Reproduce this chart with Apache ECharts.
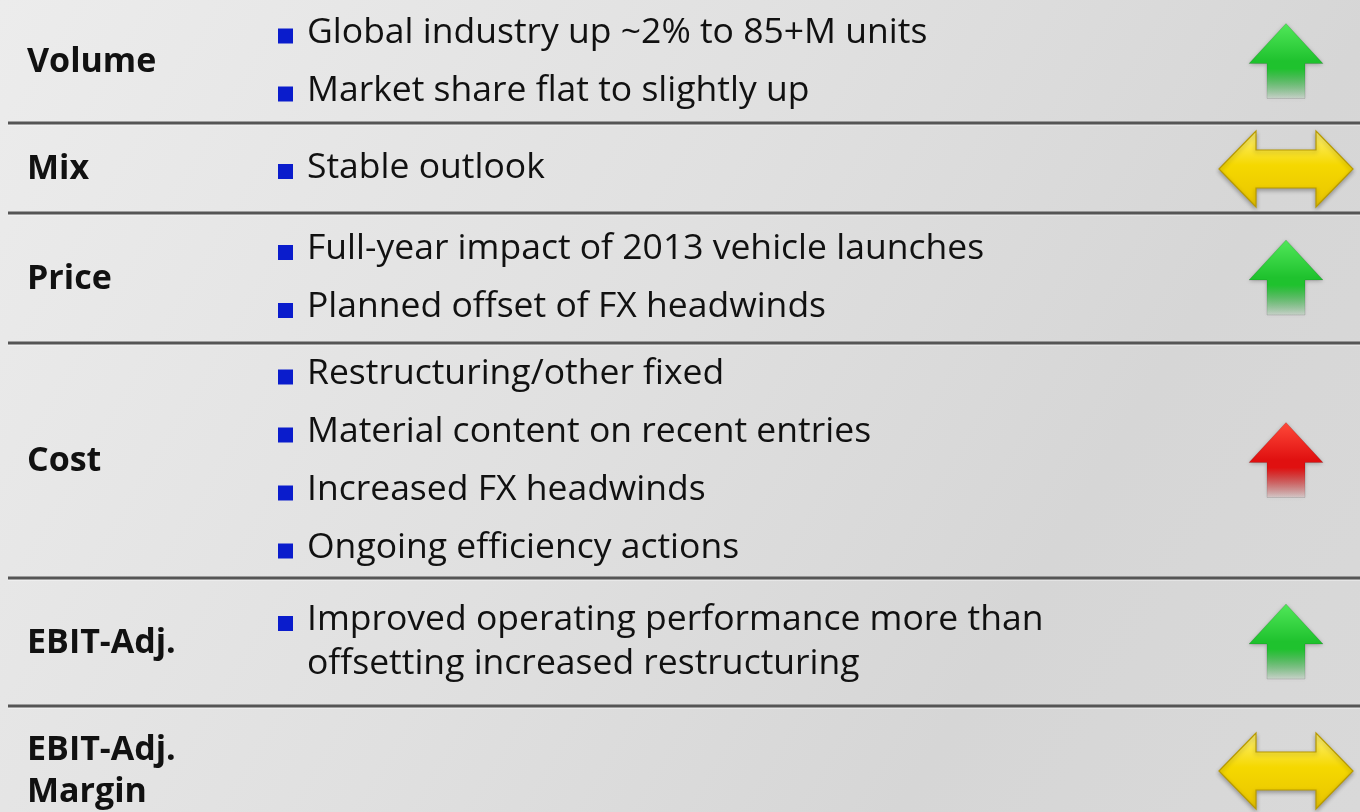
<!DOCTYPE html>
<html><head><meta charset="utf-8">
<script src="https://cdn.jsdelivr.net/npm/echarts@6/dist/echarts.min.js"></script>
<style>html,body{margin:0;padding:0;background:#dcdcdc;} #c{width:1360px;height:812px;}</style>
</head><body><div id="c"></div>
<script>
// ---- data ----
const categories = ['Volume', 'Mix', 'Price', 'Cost', 'EBIT-Adj.', 'EBIT-Adj.\nMargin'];
const bullets = [
  ['Global industry up ~2% to 85+M units', 'Market share flat to slightly up'],
  ['Stable outlook'],
  ['Full-year impact of 2013 vehicle launches', 'Planned offset of FX headwinds'],
  ['Restructuring/other fixed', 'Material content on recent entries', 'Increased FX headwinds', 'Ongoing efficiency actions'],
  ['Improved operating performance more than\noffsetting increased restructuring'],
  []
];
const trends = ['up', 'flat', 'up', 'up', 'up', 'flat'];
const sentiment = ['good', 'neutral', 'good', 'bad', 'good', 'neutral'];

// ---- layout / style (not data) ----
const LAYOUT = {
  rowHeights: [123, 90, 130, 235, 128, 128],
  labelX: 27, bulletX: 278, textX: 307, bulletSize: 15,
  bulletGap: 14, lineH: 44, arrowX: 1286
};
const FONT_TEXT = '35.5px "Open Sans"';
const FONT_LABEL = 'bold 34px "Open Sans"';

const rowTops = [];
let acc = 0;
LAYOUT.rowHeights.forEach(h => { rowTops.push(acc); acc += h; });
const seriesData = categories.map((c, i) => [i, rowTops[i], rowTops[i] + LAYOUT.rowHeights[i]]);

const COLORS = {
  good: { top: '#52e85a', mid: '#1fc22e', edge: '#129a1e', fade: 'rgba(40,190,60,0.05)' },
  bad: { top: '#ff4a3a', mid: '#e01010', edge: '#a80a0a', fade: 'rgba(220,30,30,0.05)' },
  neutral: { top: '#fff27a', mid: '#f5d800', edge: '#b89a00' }
};

function upArrow(cx, cy, c) {
  const pts = [[cx, cy - 38], [cx + 37, cy + 2], [cx + 19, cy + 2], [cx + 19, cy + 37],
               [cx - 19, cy + 37], [cx - 19, cy + 2], [cx - 37, cy + 2]];
  return {
    type: 'polygon', shape: { points: pts },
    style: {
      fill: new echarts.graphic.LinearGradient(0, 0, 0, 1, [
        { offset: 0, color: c.top }, { offset: 0.5, color: c.mid },
        { offset: 0.6, color: c.mid }, { offset: 1, color: c.fade }]),
      stroke: 'rgba(0,0,0,0.12)', lineWidth: 1,
      shadowBlur: 4, shadowColor: 'rgba(0,0,0,0.25)', shadowOffsetY: 1
    }
  };
}
function flatArrow(cx, cy, c) {
  const pts = [[cx - 67, cy], [cx - 30, cy - 38], [cx - 30, cy - 19], [cx + 30, cy - 19], [cx + 30, cy - 38],
               [cx + 67, cy], [cx + 30, cy + 38], [cx + 30, cy + 19], [cx - 30, cy + 19], [cx - 30, cy + 38]];
  return {
    type: 'polygon', shape: { points: pts },
    style: {
      fill: new echarts.graphic.LinearGradient(0, 0, 0, 1, [
        { offset: 0, color: c.top }, { offset: 0.45, color: c.mid }, { offset: 1, color: '#e8c400' }]),
      stroke: c.edge, lineWidth: 1.2,
      shadowBlur: 4, shadowColor: 'rgba(0,0,0,0.3)', shadowOffsetY: 2
    }
  };
}

function renderItem(params, api) {
  const i = params.dataIndex;
  const top = api.coord([0, api.value(1)])[1];
  const bot = api.coord([0, api.value(2)])[1];
  const X = v => api.coord([v, 0])[0];
  const cy = (top + bot) / 2;
  const children = [];
  // row label
  children.push({
    type: 'text',
    style: { text: categories[i], x: X(LAYOUT.labelX), y: cy + 1, align: 'left', verticalAlign: 'middle',
             font: FONT_LABEL, fill: '#111', lineHeight: 42 }
  });
  // bullets
  const items = bullets[i].map(b => b.split('\n'));
  const nLines = items.reduce((s, l) => s + l.length, 0);
  const blockH = nLines * LAYOUT.lineH + Math.max(0, items.length - 1) * LAYOUT.bulletGap;
  let y = cy - blockH / 2;
  items.forEach(lines => {
    lines.forEach((ln, k) => {
      const lc = y + LAYOUT.lineH / 2;
      if (k === 0) {
        children.push({
          type: 'rect',
          shape: { x: X(LAYOUT.bulletX), y: lc - 4, width: LAYOUT.bulletSize, height: LAYOUT.bulletSize },
          style: { fill: '#0a1ccc' }
        });
      }
      children.push({
        type: 'text',
        style: { text: ln, x: X(LAYOUT.textX), y: lc, align: 'left', verticalAlign: 'middle',
                 font: FONT_TEXT, fill: '#111' }
      });
      y += LAYOUT.lineH;
    });
    y += LAYOUT.bulletGap;
  });
  // trend arrow
  const c = COLORS[sentiment[i]];
  const ax = X(LAYOUT.arrowX);
  children.push(trends[i] === 'flat' ? flatArrow(ax, cy + 1, c) : upArrow(ax, cy, c));
  // separator
  if (i < categories.length - 1) {
    children.push({ type: 'line', shape: { x1: X(8), y1: bot + 2, x2: X(1360), y2: bot + 2 },
                    style: { stroke: 'rgba(255,255,255,0.7)', lineWidth: 1 } });
    children.push({ type: 'line', shape: { x1: X(8), y1: bot, x2: X(1360), y2: bot },
                    style: { stroke: '#555', lineWidth: 3 } });
  }
  return { type: 'group', children };
}

const chart = echarts.init(document.getElementById('c'), null, { renderer: 'canvas' });
chart.setOption({
  backgroundColor: new echarts.graphic.LinearGradient(0, 0, 1, 1, [
    { offset: 0, color: '#ececec' }, { offset: 0.45, color: '#e0e0e0' },
    { offset: 0.75, color: '#d6d6d6' }, { offset: 1, color: '#d9d9d9' }]),
  animation: false,
  grid: { left: 0, right: 0, top: 0, bottom: 0 },
  xAxis: { type: 'value', min: 0, max: 1360, show: false },
  yAxis: { type: 'value', min: 0, max: 812, inverse: true, show: false },
  series: [{
    type: 'custom', data: seriesData, renderItem: renderItem, clip: true,
    encode: { x: 0, y: [1, 2] }
  }]
});
</script>
</body></html>
